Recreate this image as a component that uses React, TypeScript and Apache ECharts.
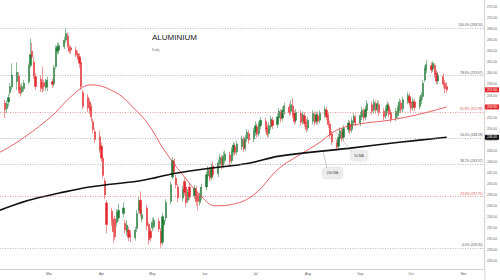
import React, { useEffect, useRef } from "react";
import * as echarts from "echarts";

// ---- Candle data (trading days from 3 Feb 2025) ----
const OPEN = [
  254.6, 253.6, 254.8, 256.5, 257.5, 258.5, 259.5, 257.4, 256.6, 257.2,
  258.4, 261.4, 264.0, 262.0, 259.4, 258.9, 258.3, 258.3, 257.4, 257.5,
  258.5, 258.1, 261.2, 264.0, 264.2, 264.8, 266.0, 266.8, 264.8, 264.6,
  264.2, 263.6, 263.0, 262.0, 256.5, 255.6, 254.8, 253.9, 251.2, 249.4,
  248.5, 246.8, 244.6, 240.5, 236.5, 235.0, 233.4, 233.6, 233.0, 233.8,
  234.6, 232.8, 231.3, 231.6, 231.0, 230.2, 231.9, 235.2, 237.0, 233.6,
  235.6, 232.6, 231.4, 232.0, 232.2, 233.2, 231.4, 229.4, 232.6, 233.8,
  236.8, 241.2, 244.0, 241.0, 239.4, 237.4, 240.4, 239.4, 237.0, 239.4,
  237.8, 239.0, 238.0, 236.6, 237.6, 239.4, 241.4, 242.4, 241.2, 243.2,
  241.8, 243.6, 244.6, 243.4, 244.2, 245.2, 244.2, 245.8, 246.8, 245.8,
  246.7, 247.9, 246.5, 248.1, 249.1, 248.1, 249.3, 250.3, 249.1, 250.5,
  251.3, 250.1, 249.1, 250.3, 251.5, 250.7, 251.9, 252.9, 251.9, 253.1,
  253.9, 253.1, 254.1, 252.7, 251.5, 252.7, 251.3, 252.3, 251.1, 250.1,
  251.3, 252.5, 251.3, 252.3, 251.5, 252.5, 253.3, 252.3, 250.8, 249.0,
  247.4, 246.8, 248.2, 249.4, 248.4, 249.8, 250.8, 249.8, 251.2, 252.0,
  251.0, 252.1, 253.1, 252.1, 253.3, 254.3, 253.3, 254.5, 253.5, 254.3,
  253.1, 252.3, 253.3, 254.0, 252.9, 251.9, 252.4, 253.4, 254.6, 253.6,
  255.0, 255.8, 254.8, 253.8, 254.8, 254.0, 255.0, 255.8, 258.8, 260.6,
  261.4, 260.8, 261.4, 260.0, 258.6, 259.4, 258.2, 257.6,
];
const CLOSE = [
  253.4, 254.5, 255.6, 257.6, 259.7, 260.2, 257.0, 256.4, 257.6, 258.2,
  261.3, 263.4, 263.0, 259.5, 257.6, 257.4, 257.2, 257.6, 258.5, 258.8,
  258.0, 261.0, 264.5, 264.9, 265.0, 266.0, 267.2, 265.0, 264.0, 264.2,
  263.3, 262.8, 261.8, 257.6, 254.0, 253.7, 253.3, 252.1, 249.8, 248.0,
  246.2, 244.6, 241.5, 238.0, 232.6, 233.4, 231.3, 230.4, 234.8, 235.2,
  235.6, 231.6, 232.5, 230.3, 230.3, 231.6, 234.6, 237.0, 234.6, 234.4,
  232.4, 229.8, 230.2, 233.0, 233.4, 231.8, 229.2, 234.0, 233.4, 236.6,
  239.8, 244.2, 242.2, 239.8, 237.4, 238.9, 238.4, 236.6, 238.4, 237.6,
  239.2, 236.8, 236.8, 237.8, 239.4, 241.6, 242.6, 241.0, 243.0, 241.6,
  243.8, 244.8, 243.2, 245.0, 245.4, 244.0, 246.0, 247.0, 245.6, 247.2,
  248.1, 246.3, 248.3, 249.3, 247.9, 249.5, 250.5, 248.9, 250.7, 251.5,
  249.9, 248.9, 250.5, 251.7, 250.5, 252.1, 253.1, 251.7, 253.3, 254.1,
  252.9, 254.3, 252.5, 251.3, 252.9, 251.1, 252.5, 250.9, 249.9, 251.5,
  252.7, 251.1, 252.5, 251.3, 252.7, 253.5, 252.1, 250.7, 248.8, 247.6,
  246.6, 248.4, 249.6, 248.2, 250.0, 251.0, 249.6, 251.4, 252.2, 251.0,
  252.4, 253.3, 251.9, 253.5, 254.5, 253.1, 254.7, 253.3, 254.5, 252.9,
  252.1, 253.5, 254.3, 252.6, 251.7, 253.1, 253.6, 254.8, 253.4, 255.2,
  256.0, 254.6, 253.6, 255.0, 253.8, 255.2, 256.0, 258.2, 260.8, 261.6,
  260.6, 261.8, 259.8, 258.6, 259.6, 258.0, 257.2, 257.0,
];
const LOW = [
  251.9, 252.8, 254.0, 256.0, 257.0, 257.0, 256.4, 255.8, 256.2, 256.7,
  258.0, 261.0, 262.6, 259.0, 257.0, 256.6, 256.5, 256.8, 256.8, 256.8,
  257.3, 257.6, 260.8, 263.4, 263.5, 264.4, 265.5, 264.6, 263.6, 263.5,
  262.9, 262.4, 261.0, 257.0, 253.5, 253.0, 252.6, 251.2, 249.2, 247.4,
  245.6, 244.0, 241.0, 237.2, 231.0, 232.4, 229.3, 229.8, 232.2, 233.2,
  233.9, 231.0, 230.6, 229.6, 229.4, 229.7, 231.2, 234.6, 234.0, 233.0,
  231.6, 229.0, 229.6, 231.4, 231.8, 231.2, 228.4, 228.8, 232.0, 233.2,
  236.3, 240.8, 241.8, 239.2, 236.6, 236.8, 237.8, 235.8, 236.4, 237.0,
  237.2, 236.0, 235.2, 236.0, 237.0, 238.8, 240.8, 240.4, 240.6, 241.0,
  241.2, 243.0, 242.6, 242.8, 243.6, 243.2, 243.6, 245.2, 245.0, 245.2,
  246.1, 245.7, 245.9, 247.5, 247.3, 247.5, 248.7, 248.3, 248.5, 249.9,
  249.3, 248.3, 248.5, 249.7, 249.9, 250.1, 251.3, 251.1, 251.3, 252.5,
  252.3, 252.5, 251.9, 250.7, 250.9, 250.5, 250.7, 250.3, 249.3, 249.5,
  250.7, 250.5, 250.7, 250.7, 250.9, 251.9, 251.5, 250.1, 248.2, 247.0,
  246.0, 246.2, 247.6, 247.6, 247.8, 249.2, 249.0, 249.2, 250.6, 250.4,
  250.4, 251.5, 251.3, 251.5, 252.7, 252.5, 252.7, 252.7, 252.9, 252.3,
  251.5, 251.7, 252.7, 252.0, 251.1, 251.3, 251.8, 252.8, 252.8, 253.0,
  254.4, 254.0, 253.0, 253.2, 253.2, 253.4, 254.4, 255.2, 258.4, 260.0,
  260.0, 260.2, 259.2, 258.0, 258.0, 257.4, 256.4, 256.4,
];
const HIGH = [
  255.2, 255.0, 256.2, 258.2, 261.8, 262.0, 260.2, 258.0, 258.3, 258.8,
  261.8, 266.3, 265.5, 263.0, 260.0, 259.5, 261.1, 258.8, 259.0, 259.4,
  259.0, 261.5, 265.0, 265.5, 265.6, 266.6, 268.2, 267.4, 265.2, 265.0,
  264.8, 264.0, 263.6, 262.6, 257.0, 256.2, 255.3, 254.4, 251.8, 250.0,
  249.6, 247.4, 245.0, 241.0, 237.0, 235.6, 233.8, 234.2, 235.4, 236.4,
  236.6, 233.4, 233.4, 232.2, 231.6, 232.2, 235.2, 237.6, 238.6, 235.2,
  236.2, 233.0, 232.0, 233.8, 234.0, 233.8, 232.0, 234.6, 234.2, 237.2,
  240.4, 244.8, 244.6, 241.6, 240.0, 239.6, 241.0, 240.0, 239.0, 240.0,
  239.8, 239.6, 238.6, 238.4, 240.0, 242.2, 243.2, 243.0, 243.6, 244.0,
  244.4, 245.4, 245.2, 245.8, 246.0, 245.8, 246.6, 247.6, 247.4, 247.8,
  248.7, 248.5, 248.9, 249.9, 249.7, 250.1, 251.3, 250.9, 251.3, 252.1,
  251.9, 250.7, 251.1, 252.3, 252.1, 252.7, 253.7, 253.5, 253.9, 254.7,
  254.5, 255.2, 255.5, 253.3, 253.5, 253.3, 253.1, 252.9, 251.7, 252.1,
  253.3, 253.1, 253.1, 252.9, 253.3, 254.1, 253.9, 252.9, 251.4, 249.6,
  248.0, 249.0, 250.2, 250.0, 250.6, 251.6, 251.4, 252.0, 252.8, 252.6,
  253.0, 253.9, 253.7, 254.1, 255.1, 254.9, 255.3, 255.1, 255.1, 254.9,
  253.7, 254.1, 254.9, 254.6, 253.5, 253.7, 254.2, 255.4, 255.2, 255.8,
  256.6, 256.4, 255.4, 255.6, 255.4, 255.8, 256.6, 258.8, 261.4, 262.4,
  262.0, 262.2, 261.8, 260.6, 260.2, 260.0, 258.8, 258.4,
];

// ---- Moving averages (read at sample dates) ----
const MA50_DATES = [
  "2025-01-31", "2025-02-12", "2025-03-02", "2025-03-12", "2025-03-21", "2025-03-26",
  "2025-04-10", "2025-04-20", "2025-04-29", "2025-05-08", "2025-05-19", "2025-05-31",
  "2025-06-07", "2025-06-18", "2025-06-30", "2025-07-15", "2025-07-27", "2025-08-08",
  "2025-08-18", "2025-08-31", "2025-09-18", "2025-10-06", "2025-10-22",
];
const MA50_VALUES = [
  245.7, 247.9, 252.1, 255.2, 257.5, 257.9, 256.4, 253.7, 250.6, 246.1, 241.6, 237.4,
  236.0, 236.3, 238.0, 242.8, 245.2, 247.5, 249.7, 250.8, 251.5, 252.6, 253.9,
];
const MA200_DATES = [
  "2025-01-31", "2025-02-17", "2025-03-07", "2025-03-25", "2025-04-23", "2025-05-03",
  "2025-05-13", "2025-05-23", "2025-06-04", "2025-06-27", "2025-07-15", "2025-08-25",
  "2025-09-24", "2025-10-22",
];
const MA200_VALUES = [
  235.2, 237.0, 238.3, 239.4, 240.5, 241.1, 241.8, 242.3, 242.8, 243.7, 245.0, 246.4,
  247.5, 248.4,
];

// ---- Fibonacci retracement levels ----
const FIB_LEVELS = ["100.0%", "78.6%", "61.8%", "50.0%", "38.2%", "23.6%", "0.0%"];
const FIB_VALUES = [268.2, 259.67, 252.98, 248.28, 243.57, 237.75, 228.35];
const FIB_RED = [false, false, true, false, false, true, false];

// ---- Axes ----
const MONTH_TICKS = ["2025-03-01", "2025-04-01", "2025-05-01", "2025-06-01", "2025-07-01", "2025-08-01", "2025-09-01", "2025-10-01", "2025-11-01"];
const MONTH_NAMES = ["Mar", "Apr", "May", "Jun", "Jul", "Aug", "Sep", "Oct", "Nov"];
const PRICE_TICKS = [226, 228, 230, 232, 234, 236, 238, 240, 242, 244, 246, 248, 250, 252, 254, 256, 258, 260, 262, 264, 266, 268, 270, 272];

const GREEN = "#1e7b34";
const RED = "#e3262b";
const FONT = "Liberation Sans, Arial, sans-serif";

function parseDay(s: string): number {
  const [y, m, d] = s.split("-").map(Number);
  return new Date(y, m - 1, d).getTime();
}

function tradingDays(start: string, n: number): number[] {
  const out: number[] = [];
  const d = new Date(parseDay(start));
  while (out.length < n) {
    const wd = d.getDay();
    if (wd !== 0 && wd !== 6) out.push(d.getTime());
    d.setDate(d.getDate() + 1);
  }
  return out;
}

function valueBox(v: number, bg: string) {
  return {
    yAxis: v,
    lineStyle: { color: "rgba(0,0,0,0)", width: 0.01 },
    label: {
      show: true,
      position: "end",
      distance: 1,
      formatter: v.toFixed(2),
      color: "#fff",
      backgroundColor: bg,
      fontSize: 3.3,
      padding: [1, 2, 1, 2],
    },
  };
}

export default function App() {
  const ref = useRef<HTMLDivElement>(null);
  useEffect(() => {
    if (!ref.current) return;
    const chart = echarts.init(ref.current, undefined, { renderer: "svg" });
    const days = tradingDays("2025-02-03", OPEN.length);
    const candles = days.map((t, i) => [t, OPEN[i], CLOSE[i], LOW[i], HIGH[i]]);
    const ma50 = MA50_DATES.map((d, i) => [parseDay(d), MA50_VALUES[i]]);
    const ma200 = MA200_DATES.map((d, i) => [parseDay(d), MA200_VALUES[i]]);
    const last = CLOSE[CLOSE.length - 1];
    const monthTicks = MONTH_TICKS.map(parseDay);

    const fibLines = FIB_LEVELS.map((lv, i) => {
      const c = FIB_RED[i] ? "#e06a6a" : "#9a9a9a";
      return {
        yAxis: FIB_VALUES[i],
        lineStyle: { color: c, type: [1, 1.5], width: 0.7 },
        label: {
          show: true,
          position: "insideEndTop",
          distance: 1.2,
          formatter: `${lv} (${FIB_VALUES[i].toFixed(2)})`,
          color: FIB_RED[i] ? "#d9534f" : "#555",
          fontSize: 3.3,
        },
      };
    });

    const calloutBox = (x: number, y: number, w: number, h: number, text: string) => ({
      type: "group",
      children: [
        {
          type: "rect",
          shape: { x, y, width: w, height: h, r: 1.2 },
          style: { fill: "#ececec", shadowBlur: 2, shadowColor: "rgba(0,0,0,0.25)" },
        },
        {
          type: "text",
          x: x + w / 2,
          y: y + h / 2,
          style: { text, fill: "#444", fontSize: 3.3, fontFamily: FONT, align: "center", verticalAlign: "middle" },
        },
      ],
    });

    chart.setOption({
      animation: false,
      backgroundColor: "#ffffff",
      textStyle: { fontFamily: FONT },
      title: {
        text: "ALUMINIUM",
        subtext: "Daily",
        left: 152,
        top: 33,
        padding: 0,
        itemGap: 7,
        textStyle: { fontSize: 8, fontWeight: "normal", color: "#1a1a1a", fontFamily: FONT },
        subtextStyle: { fontSize: 3.3, color: "#777", fontFamily: FONT },
      },
      grid: { left: 0, right: 15, top: 0, bottom: 11, containLabel: false },
      xAxis: {
        type: "value",
        min: parseDay("2025-01-31"),
        max: parseDay("2025-11-13"),
        axisLine: { show: true, onZero: false, lineStyle: { color: "#c8c8c8", width: 0.8 } },
        axisTick: { show: false },
        splitLine: { show: false },
        axisLabel: {
          customValues: monthTicks,
          formatter: (v: number) => {
            const k = monthTicks.indexOf(v);
            return k >= 0 ? MONTH_NAMES[k] : "";
          },
          fontSize: 3.3,
          color: "#555",
          margin: 3,
        },
      },
      yAxis: {
        type: "value",
        position: "right",
        min: 224.55,
        max: 273.27,
        axisLine: { show: true, lineStyle: { color: "#c8c8c8", width: 0.8 } },
        axisTick: { show: false },
        splitLine: { show: false },
        axisLabel: {
          customValues: PRICE_TICKS,
          formatter: (v: number) => v.toFixed(2),
          fontSize: 3.3,
          color: "#666",
          margin: 3,
        },
      },
      series: [
        {
          type: "candlestick",
          data: candles,
          barWidth: 1.7,
          itemStyle: {
            color: GREEN,
            color0: RED,
            borderColor: GREEN,
            borderColor0: RED,
            borderWidth: 0.5,
          },
          markLine: {
            symbol: ["none", "none"],
            silent: true,
            data: [...fibLines, valueBox(last, RED)],
          },
          z: 3,
        },
        {
          type: "line",
          name: "50 MA",
          data: ma50,
          smooth: 0.4,
          showSymbol: false,
          lineStyle: { color: "#e2393c", width: 0.8 },
          markLine: {
            symbol: ["none", "none"],
            silent: true,
            data: [valueBox(MA50_VALUES[MA50_VALUES.length - 1], RED)],
          },
          z: 4,
        },
        {
          type: "line",
          name: "200 MA",
          data: ma200,
          smooth: 0.4,
          showSymbol: false,
          lineStyle: { color: "#111111", width: 1.6 },
          markLine: {
            symbol: ["none", "none"],
            silent: true,
            data: [valueBox(MA200_VALUES[MA200_VALUES.length - 1], "#111111")],
          },
          z: 4,
        },
      ],
      graphic: [
        { type: "line", shape: { x1: 485, y1: 269, x2: 485, y2: 280 }, style: { stroke: "#c8c8c8", lineWidth: 0.8 } },
        { type: "line", shape: { x1: 352, y1: 152, x2: 336, y2: 132 }, style: { stroke: "#9a9a9a", lineWidth: 0.5 } },
        { type: "line", shape: { x1: 327, y1: 168, x2: 323, y2: 151 }, style: { stroke: "#9a9a9a", lineWidth: 0.5 } },
        calloutBox(351, 151, 16, 9.5, "50 MA"),
        calloutBox(323, 168, 19, 10, "200 MA"),
      ],
    });
    return () => chart.dispose();
  }, []);
  return (
    <div
      ref={ref}
      style={{ position: "fixed", left: 0, top: 0, width: 500, height: 280, background: "#fff" }}
    />
  );
}
